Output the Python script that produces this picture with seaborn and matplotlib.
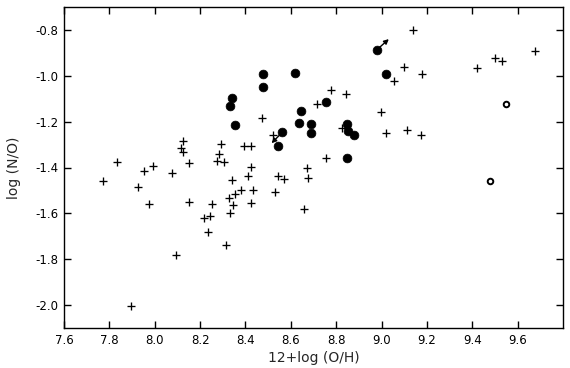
import matplotlib
matplotlib.use("Agg")
import matplotlib.pyplot as plt
import seaborn as sns
import pandas as pd

# crosses
plus_oh = [7.773, 7.835, 7.894, 7.926, 7.953, 7.975, 7.994, 8.076, 8.095, 8.115,
           8.125, 8.126, 8.151, 8.151, 8.219, 8.237, 8.245, 8.254, 8.274, 8.285,
           8.294, 8.306, 8.313, 8.328, 8.334, 8.342, 8.345, 8.354, 8.382, 8.394,
           8.413, 8.424, 8.425, 8.425, 8.432, 8.475, 8.523, 8.532, 8.545, 8.572,
           8.656, 8.673, 8.676, 8.716, 8.756, 8.779, 8.826, 8.845, 8.998, 9.019,
           9.057, 9.097, 9.112, 9.139, 9.176, 9.179, 9.419, 9.498, 9.531, 9.675]
plus_no = [-1.460, -1.377, -2.002, -1.487, -1.416, -1.559, -1.393, -1.425, -1.781, -1.315,
           -1.333, -1.286, -1.380, -1.549, -1.620, -1.680, -1.612, -1.560, -1.373, -1.339,
           -1.299, -1.376, -1.736, -1.533, -1.599, -1.455, -1.565, -1.517, -1.496, -1.307,
           -1.436, -1.554, -1.307, -1.399, -1.500, -1.186, -1.260, -1.509, -1.435, -1.452,
           -1.583, -1.400, -1.447, -1.122, -1.360, -1.064, -1.228, -1.080, -1.158, -1.251,
           -1.022, -0.961, -1.238, -0.799, -1.258, -0.994, -0.967, -0.923, -0.935, -0.890]

# filled circles
filled_oh = [8.331, 8.341, 8.356, 8.479, 8.479, 8.545, 8.563, 8.618, 8.634, 8.647,
             8.688, 8.689, 8.757, 8.847, 8.847, 8.854, 8.879, 8.979, 9.020]
filled_no = [-1.132, -1.097, -1.213, -0.991, -1.047, -1.307, -1.246, -0.986, -1.204, -1.152,
             -1.249, -1.209, -1.115, -1.209, -1.360, -1.242, -1.260, -0.887, -0.994]

# open circles
open_oh = [9.547, 9.479]
open_no = [-1.123, -1.457]

# arrows attached to filled circles (index, shift)
arrow_idx = [6, 17]
arrow_dx = [-0.048, 0.053]
arrow_dy = [-0.048, 0.047]

x_ticks = [7.6, 7.8, 8.0, 8.2, 8.4, 8.6, 8.8, 9.0, 9.2, 9.4, 9.6]
x_tick_labels = ["7.6", "7.8", "8.0", "8.2", "8.4", "8.6", "8.8", "9.0", "9.2", "9.4", "9.6"]
y_ticks = [-0.8, -1.0, -1.2, -1.4, -1.6, -1.8, -2.0]
y_tick_labels = ["-0.8", "-1.0", "-1.2", "-1.4", "-1.6", "-1.8", "-2.0"]

sns.set_theme(style="ticks")
plt.rcParams['font.family'] = ['DejaVu Sans']

fig = plt.figure(figsize=(5.7, 3.68), dpi=100)
ax = fig.add_axes([64 / 570, 1 - 328 / 368, (563 - 64) / 570, (328 - 7) / 368])

plus_df = pd.DataFrame({"oh": plus_oh, "no": plus_no})
filled_df = pd.DataFrame({"oh": filled_oh, "no": filled_no})
open_df = pd.DataFrame({"oh": open_oh, "no": open_no})

sns.scatterplot(data=plus_df, x="oh", y="no", marker="+", s=26, color="black",
                linewidth=0.95, ax=ax, zorder=3)
sns.scatterplot(data=filled_df, x="oh", y="no", marker="o", s=40, color="black",
                edgecolor="black", linewidth=0.5, ax=ax, zorder=3)
sns.scatterplot(data=open_df, x="oh", y="no", marker="o", s=16, facecolor="white",
                edgecolor="black", linewidth=1.4, ax=ax, zorder=3)

for i, dx, dy in zip(arrow_idx, arrow_dx, arrow_dy):
    x0, y0 = filled_oh[i], filled_no[i]
    ax.annotate("", xy=(x0 + dx, y0 + dy), xytext=(x0, y0),
                arrowprops=dict(arrowstyle="-|>", color="black", lw=1.0,
                                mutation_scale=7, shrinkA=3, shrinkB=0))

ax.set_xlim(7.6, 9.8)
ax.set_ylim(-2.1, -0.7)
ax.set_xticks(x_ticks)
ax.set_xticklabels(x_tick_labels)
ax.set_yticks(y_ticks)
ax.set_yticklabels(y_tick_labels)
ax.tick_params(direction="in", length=5, width=1.0, top=True, right=True,
               labelsize=8.5, colors="black", pad=4)
for sp in ax.spines.values():
    sp.set_visible(True)
    sp.set_linewidth(1.0)
    sp.set_color("black")
ax.set_xlabel("12+log (O/H)", fontsize=10, labelpad=3)
ax.set_ylabel("log (N/O)", fontsize=10, labelpad=10)

fig.savefig("out.png", dpi=100)
